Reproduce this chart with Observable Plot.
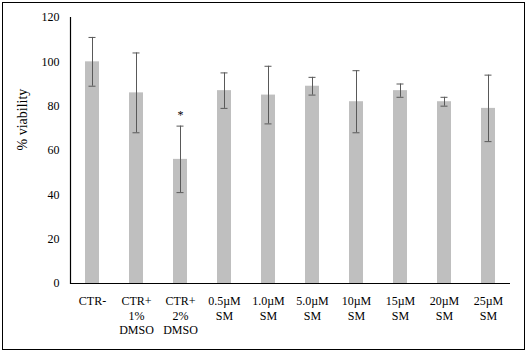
<!DOCTYPE html>
<html>
<head>
<meta charset="utf-8">
<script src="https://cdn.jsdelivr.net/npm/d3@7"></script>
<script src="https://cdn.jsdelivr.net/npm/@observablehq/plot@0.6"></script>
<style>
  html, body { margin: 0; padding: 0; background: #fff; }
  #wrap { position: relative; width: 528px; height: 354px; }
  #border { position: absolute; left: 2px; top: 2px; width: 521px; height: 346px; border: 1px solid #000; pointer-events: none; }
  #chart svg { display: block; }
</style>
</head>
<body>
<div id="wrap"><div id="chart"></div><div id="border"></div></div>
<script>
const categories = ["CTR-", "CTR+\n1%\nDMSO", "CTR+\n2%\nDMSO", "0.5µM\nSM", "1.0µM\nSM", "5.0µM\nSM", "10µM\nSM", "15µM\nSM", "20µM\nSM", "25µM\nSM"];
const viability = [100, 86, 56, 87, 85, 89, 82, 87, 82, 79];
const errors = [11, 18, 15, 8, 13, 4, 14, 3, 2, 15];
const yTicks = [0, 20, 40, 60, 80, 100, 120];
const significant = ["CTR+\n2%\nDMSO"];

const data = categories.map((c, i) => ({
  cat: c, v: viability[i], lo: viability[i] - errors[i], hi: viability[i] + errors[i]
}));
const stars = data.filter(d => significant.includes(d.cat));

const font = "'Liberation Serif', 'DejaVu Serif', serif";

const chart = Plot.plot({
  width: 528,
  height: 354,
  marginLeft: 70,
  marginRight: 18,
  marginTop: 17,
  marginBottom: 71,
  style: { fontFamily: font, fontSize: "12px", color: "#000", background: "transparent" },
  x: { domain: categories, padding: 0, label: null },
  y: { domain: [0, 120], label: null },
  marks: [
    Plot.barY(data, { x: "cat", y: "v", fill: "#bfbfbf", insetLeft: 15, insetRight: 15 }),
    Plot.ruleX(data, { x: "cat", y1: "lo", y2: "hi", stroke: "#595959", strokeWidth: 1 }),
    Plot.tickY(data, { x: "cat", y: "hi", stroke: "#595959", strokeWidth: 1, insetLeft: 18.5, insetRight: 18.5 }),
    Plot.tickY(data, { x: "cat", y: "lo", stroke: "#595959", strokeWidth: 1, insetLeft: 18.5, insetRight: 18.5 }),
    Plot.text(stars, { x: "cat", y: "hi", text: () => "*", dy: -11, fontSize: 12, fontFamily: font, fill: "#000" }),
    Plot.ruleY([0], { stroke: "#000", strokeWidth: 1.2 }),
    Plot.frame({ anchor: "left", stroke: "#000", strokeWidth: 1.2 }),
    Plot.axisY({ ticks: yTicks, tickSize: 0, tickPadding: 11, label: null, fontSize: 12, fontFamily: font }),
    Plot.axisX({ tickSize: 0, tickPadding: 12, label: null, lineHeight: 1.17, fontSize: 12, fontFamily: font }),
    Plot.text(["% viability"], {
      frameAnchor: "left", dx: -48, rotate: -90, fontSize: 14, letterSpacing: 1,
      fontFamily: font, fill: "#000"
    })
  ]
});
document.getElementById("chart").appendChild(chart);
</script>
</body>
</html>
